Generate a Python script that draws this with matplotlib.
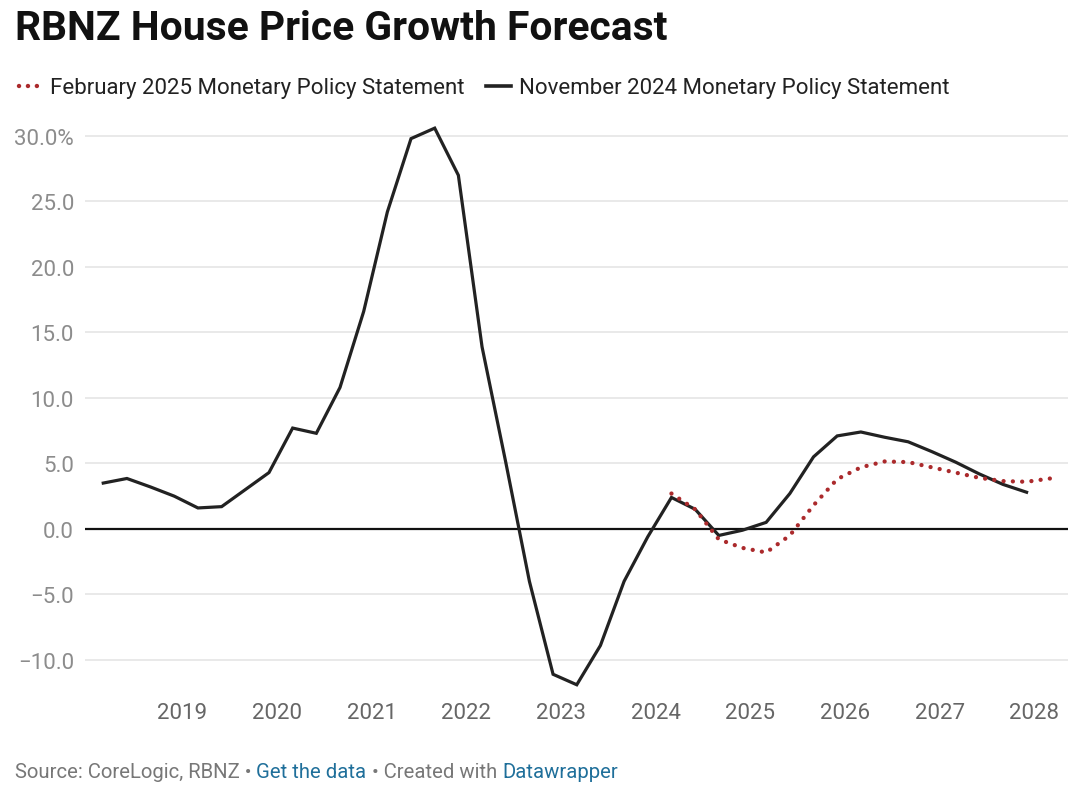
import matplotlib
matplotlib.use("Agg")
import matplotlib.pyplot as plt
from matplotlib.lines import Line2D
import numpy as np

# ---- data ----
years_q = [2018 + k // 4 + (3 * (k % 4 + 1) - 1) / 12 for k in range(41)]  # Mar, Jun, Sep, Dec quarters
nov2024 = [3.5, 3.85, 3.2, 2.5, 1.6, 1.7, 3.0, 4.3, 7.7, 7.3,
           10.8, 16.6, 24.2, 29.8, 30.6, 27.0, 13.9, 5.1, -4.0, -11.1,
           -11.9, -8.9, -4.0, -0.6, 2.4, 1.5, -0.5, -0.1, 0.5, 2.7,
           5.5, 7.1, 7.4, 7.0, 6.65, 5.9, 5.1, 4.2, 3.4, 2.8]
feb2025 = [2.7, 1.5, -0.8, -1.45, -1.8, -0.5, 1.8, 3.8, 4.7, 5.15,
           5.1, 4.7, 4.3, 3.9, 3.65, 3.6, 3.85]
feb_start = 24
x_nov = years_q[:len(nov2024)]
x_feb = years_q[feb_start:feb_start + len(feb2025)]

yticks = [-10, -5, 0, 5, 10, 15, 20, 25, 30]
ytick_labels = ["\u221210.0", "\u22125.0", "0.0", "5.0", "10.0", "15.0", "20.0", "25.0", "30.0%"]
xticks = list(range(2019, 2029))
xtick_labels = [str(y) for y in xticks]

title = "RBNZ House Price Growth Forecast"
leg_feb = "February 2025 Monetary Policy Statement"
leg_nov = "November 2024 Monetary Policy Statement"

plt.rcParams['font.family'] = ['Roboto', 'DejaVu Sans']

W, H = 1080, 804
fig = plt.figure(figsize=(W / 100, H / 100), dpi=100)
fig.patch.set_facecolor("white")

left, right = 85 / W, 1068 / W
top_px, bot_px = 123.9, 691.0
ax = fig.add_axes([left, 1 - bot_px / H, right - left, (bot_px - top_px) / H])

red = "#ab2a2c"
blk = "#222222"

for y in yticks:
    if y == 0:
        continue
    ax.axhline(y, color="#e3e3e3", lw=1.1, zorder=0)
ax.axhline(0, color="#111111", lw=1.6, zorder=1)

ax.plot(x_nov, nov2024, color=blk, lw=2.3, solid_joinstyle="miter", zorder=3)
ax.plot(x_feb, feb2025, color=red, lw=3.1, linestyle=(0, (0.01, 2.15)),
        dash_capstyle="round", zorder=4)

ax.set_xlim(2017.974, 2028.354)
ax.set_ylim(-12.3, 31.0)

ax.set_yticks(yticks)
ax.set_yticklabels(ytick_labels)
ax.set_xticks(xticks)
ax.set_xticklabels(xtick_labels)
ax.tick_params(axis="both", length=0, labelsize=16, labelcolor="#8c8c8c")
ax.tick_params(axis="x", pad=9, labelcolor="#666666")
ax.tick_params(axis="y", pad=8)
for s in ax.spines.values():
    s.set_visible(False)

# title
fig.text(15 / W, 1 - 40 / H, title, fontsize=29.3, fontweight="bold", color="#111111",
         ha="left", va="baseline")

# legend (manual)
ly = 1 - 88.5 / H
fig.add_artist(Line2D([19 / W, 38 / W], [1 - 87 / H, 1 - 87 / H], color=red, lw=3.2,
                      linestyle=(0, (0.01, 2.0)), dash_capstyle="round"))
fig.text(50 / W, ly, leg_feb, fontsize=16, color="#222222", ha="left", va="center")
fig.add_artist(Line2D([486 / W, 511 / W], [1 - 87 / H, 1 - 87 / H], color=blk, lw=2.6))
fig.text(519 / W, ly, leg_nov, fontsize=16, color="#222222", ha="left", va="center")

# footer
fy = 1 - 773 / H
t1 = fig.text(15 / W, fy, "Source: CoreLogic, RBNZ \u2022 ", fontsize=14.6, color="#777777",
              ha="left", va="center")
fig.canvas.draw()
r = fig.canvas.get_renderer()
def nxt(t, s, c):
    bb = t.get_window_extent(renderer=r)
    return fig.text(bb.x1 / W, fy, s, fontsize=14.6, color=c, ha="left", va="center")
t2 = nxt(t1, "Get the data", "#1f6f9a")
t3 = nxt(t2, " \u2022 Created with ", "#777777")
t4 = nxt(t3, "Datawrapper", "#1f6f9a")

fig.savefig("out.png", dpi=100, facecolor="white")
